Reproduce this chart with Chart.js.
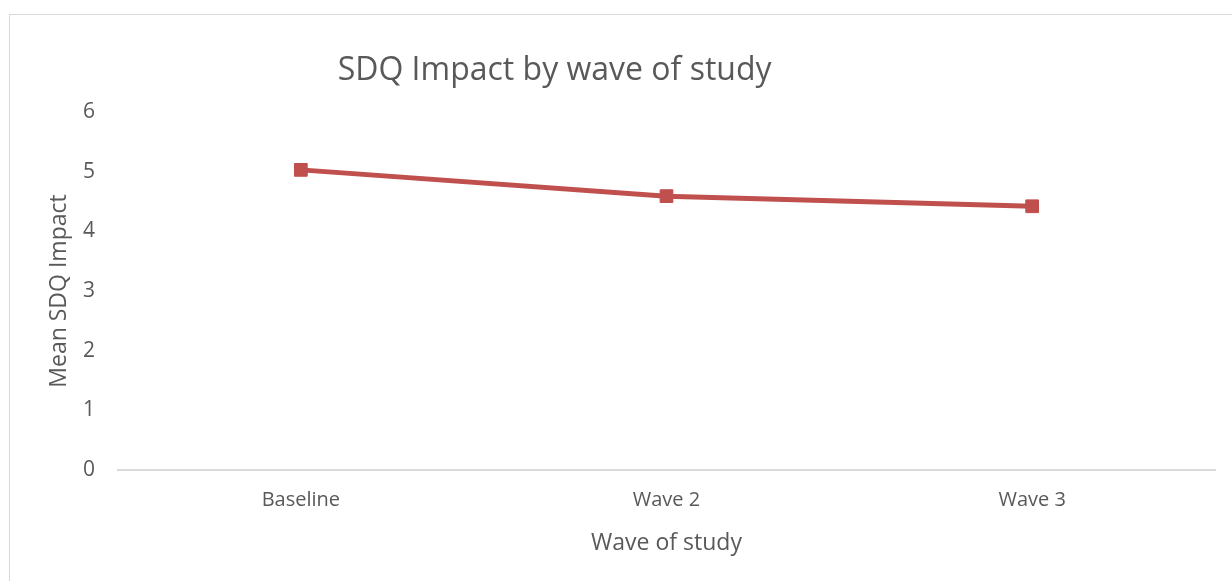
<!DOCTYPE html>
<html>
<head>
<meta charset="utf-8">
<script src="https://cdn.jsdelivr.net/npm/chart.js@4.4.1/dist/chart.umd.min.js"></script>
<style>
  html, body { margin: 0; padding: 0; background: #fff; }
  #wrap { position: relative; width: 1232px; height: 581px; overflow: hidden; }
  #frame { position: absolute; left: 9px; top: 14px; width: 1240px; height: 600px;
           border: 1px solid #d9d9d9; box-sizing: border-box; }
  canvas { position: absolute; left: 0; top: 0; }
</style>
</head>
<body>
<div id="wrap">
  <div id="frame"></div>
  <canvas id="c" width="1232" height="581"></canvas>
</div>
<script>
const chartTitle = 'SDQ Impact by wave of study';
const waves = ['Baseline', 'Wave 2', 'Wave 3'];
const meanImpact = [5.03, 4.59, 4.42];
const yTicks = [0, 1, 2, 3, 4, 5, 6];
const xAxisTitle = 'Wave of study';
const yAxisTitle = 'Mean SDQ Impact';

const textColor = '#595959';
const lineColor = '#c0504d';
const fontFamily = '"Open Sans", "Noto Sans", sans-serif';

// Heading drawn above the plot, slightly left of the plot centre
const headingPlugin = {
  id: 'heading',
  afterDraw(chart) {
    const ctx = chart.ctx;
    const area = chart.chartArea;
    ctx.save();
    ctx.fillStyle = textColor;
    ctx.font = '32px ' + fontFamily;
    ctx.textAlign = 'center';
    ctx.textBaseline = 'middle';
    ctx.fillText(chartTitle, area.left + (area.right - area.left) * 0.398, area.top - 41);
    ctx.restore();
  }
};

new Chart(document.getElementById('c'), {
  type: 'line',
  data: {
    labels: waves,
    datasets: [{
      data: meanImpact,
      borderColor: lineColor,
      backgroundColor: lineColor,
      borderWidth: 5,
      pointStyle: 'rect',
      pointRadius: 9,
      pointHoverRadius: 9,
      pointBorderWidth: 1,
      tension: 0
    }]
  },
  options: {
    responsive: false,
    animation: false,
    layout: { padding: { top: 112, left: 40, right: 17, bottom: 24 } },
    plugins: { legend: { display: false }, tooltip: { enabled: false }, title: { display: false } },
    scales: {
      x: {
        offset: true,
        grid: { display: false, drawTicks: false },
        border: { display: true, color: '#d9d9d9', width: 2 },
        ticks: { color: textColor, font: { family: fontFamily, size: 20 }, padding: 18 },
        title: { display: true, text: xAxisTitle, color: textColor,
                 font: { family: fontFamily, size: 23 }, padding: { top: 12, bottom: 0 } },
        afterFit(scale) { scale.height = 87; }
      },
      y: {
        min: 0, max: 6,
        afterBuildTicks(scale) { scale.ticks = yTicks.map(v => ({ value: v })); },
        grid: { display: false, drawTicks: false },
        border: { display: false },
        ticks: { color: textColor, font: { family: fontFamily, size: 21 }, padding: 23 },
        title: { display: true, text: yAxisTitle, color: textColor,
                 font: { family: fontFamily, size: 23 }, padding: { top: 6, bottom: 0 } },
        afterFit(scale) { scale.width = 78; }
      }
    }
  },
  plugins: [headingPlugin]
});
</script>
</body>
</html>
